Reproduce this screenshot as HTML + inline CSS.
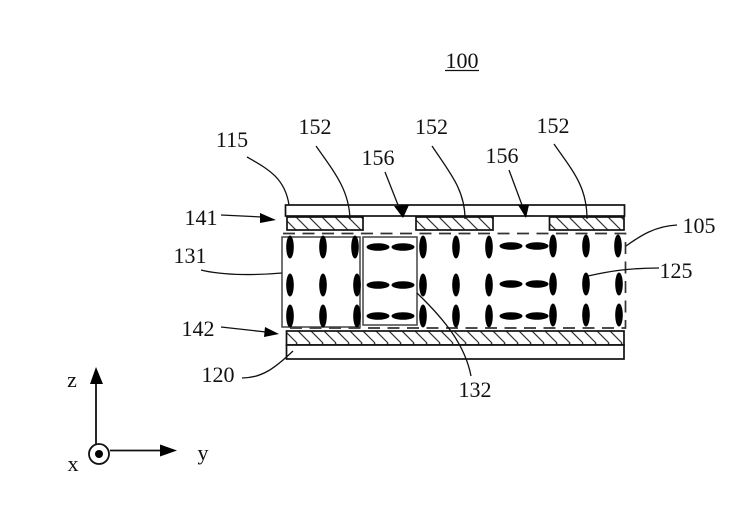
<!DOCTYPE html>
<html>
<head>
<meta charset="utf-8">
<style>
html,body{margin:0;padding:0;background:#fff}
svg{display:block}
text{font-family:"Liberation Serif",serif;font-size:22px;fill:#111;text-anchor:middle}
</style>
</head>
<body>
<svg width="739" height="508" viewBox="0 0 739 508" xmlns="http://www.w3.org/2000/svg">
<defs>
<pattern id="h" width="13" height="14" patternUnits="userSpaceOnUse" patternTransform="translate(286 217)">
<path d="M-3 0L11 14M10 0L24 14" stroke="#333" stroke-width="1.200" fill="none"/>
</pattern>
<g id="v"><ellipse cx="0" cy="0" rx="3.800" ry="11.500" fill="#000"/></g>
<g id="o"><ellipse cx="0" cy="0" rx="11.500" ry="3.800" fill="#000"/></g>
</defs>
<rect width="739" height="508" fill="#fff"/>

<!-- top plate -->
<rect x="285.500" y="205" width="339" height="11" fill="#fff" stroke="#111" stroke-width="1.700"/>
<!-- electrodes -->
<rect x="287" y="217" width="76" height="13" fill="url(#h)" stroke="#111" stroke-width="1.700"/>
<rect x="416" y="217" width="77" height="13" fill="url(#h)" stroke="#111" stroke-width="1.700"/>
<rect x="549.500" y="217" width="74.500" height="13" fill="url(#h)" stroke="#111" stroke-width="1.700"/>
<!-- bottom plates -->
<rect x="286.500" y="331" width="337.500" height="14" fill="url(#h)" stroke="#111" stroke-width="1.700"/>
<rect x="286.500" y="345" width="337.500" height="14" fill="#fff" stroke="#111" stroke-width="1.700"/>

<!-- LC dashed boundary -->
<path d="M283 233.500H625.500V328H283" fill="none" stroke="#333" stroke-width="1.700" stroke-dasharray="12 7.500"/>

<!-- boxes -->
<rect x="282" y="237" width="78" height="90" fill="none" stroke="#444" stroke-width="1.500"/>
<rect x="363" y="237" width="54" height="88" fill="none" stroke="#444" stroke-width="1.500"/>

<!-- ellipses -->
<g id="e">
<use href="#v" x="290" y="247"/><use href="#v" x="323" y="247"/><use href="#v" x="355" y="247"/>
<use href="#v" x="290" y="285"/><use href="#v" x="323" y="285"/><use href="#v" x="357" y="285"/>
<use href="#v" x="290" y="316"/><use href="#v" x="323" y="316"/><use href="#v" x="357" y="316"/>
<use href="#o" x="378" y="247"/><use href="#o" x="403" y="247"/>
<use href="#o" x="378" y="285"/><use href="#o" x="403" y="285"/>
<use href="#o" x="378" y="316"/><use href="#o" x="403" y="316"/>
<use href="#v" x="423" y="247"/><use href="#v" x="456" y="247"/><use href="#v" x="489" y="247"/>
<use href="#v" x="423" y="285"/><use href="#v" x="456" y="285"/><use href="#v" x="489" y="285"/>
<use href="#v" x="423" y="316"/><use href="#v" x="456" y="316"/><use href="#v" x="489" y="316"/>
<use href="#o" x="511" y="246"/><use href="#o" x="537" y="246"/>
<use href="#o" x="511" y="284"/><use href="#o" x="537" y="284"/>
<use href="#o" x="511" y="316"/><use href="#o" x="537" y="316"/>
<use href="#v" x="553" y="246"/><use href="#v" x="586" y="246"/><use href="#v" x="618" y="246"/>
<use href="#v" x="553" y="284"/><use href="#v" x="586" y="284"/><use href="#v" x="619" y="284"/>
<use href="#v" x="553" y="315"/><use href="#v" x="586" y="315"/><use href="#v" x="619" y="315"/>
</g>

<!-- leaders -->
<g fill="none" stroke="#111" stroke-width="1.300">
<path d="M247 157C268 169 285 178 289 205"/>
<path d="M316 146C335 173 349 190 350 219"/>
<path d="M432 146C450 173 465 190 465 219"/>
<path d="M554 144C572 170 587 186 587 219"/>
<path d="M385 172L398 205"/>
<path d="M509 170L522 205"/>
<path d="M221 215L262 217"/>
<path d="M201 270C225 276 260 275 282 273"/>
<path d="M221 327L266 332"/>
<path d="M242 378C262 378 275 368 293 351"/>
<path d="M417 293C445 320 465 345 471 376"/>
<path d="M626 246C640 236 655 226 677 225"/>
<path d="M588 276C610 271 630 268 659 268"/>
</g>
<!-- arrowheads -->
<path d="M260 213L276 220L260 223Z" fill="#000"/>
<path d="M265 327L279 334L264 337Z" fill="#000"/>
<path d="M394 206L409 205L403 218Z" fill="#000"/>
<path d="M518 205L529 205L526 218Z" fill="#000"/>

<!-- labels -->
<text x="462" y="68">100</text>
<path d="M445 70.500H479" stroke="#111" stroke-width="1.300"/>
<text x="315" y="134">152</text>
<text x="431.500" y="134">152</text>
<text x="553" y="133">152</text>
<text x="232" y="147">115</text>
<text x="378" y="165">156</text>
<text x="502" y="163">156</text>
<text x="201" y="225">141</text>
<text x="190" y="263">131</text>
<text x="198" y="336">142</text>
<text x="218" y="382">120</text>
<text x="475" y="397">132</text>
<text x="699" y="233">105</text>
<text x="676" y="278">125</text>

<!-- axes -->
<path d="M96 444V380" stroke="#111" stroke-width="1.800"/>
<path d="M96 367L103 384H90Z" fill="#000"/>
<path d="M110 450.500H163" stroke="#111" stroke-width="1.800"/>
<path d="M177 450.500L160 444.500V456.500Z" fill="#000"/>
<circle cx="99" cy="454" r="10" fill="#fff" stroke="#111" stroke-width="1.800"/>
<circle cx="99" cy="454" r="4" fill="#000"/>
<text x="72" y="387">z</text>
<text x="203" y="460">y</text>
<text x="73" y="471">x</text>
</svg>
</body>
</html>
